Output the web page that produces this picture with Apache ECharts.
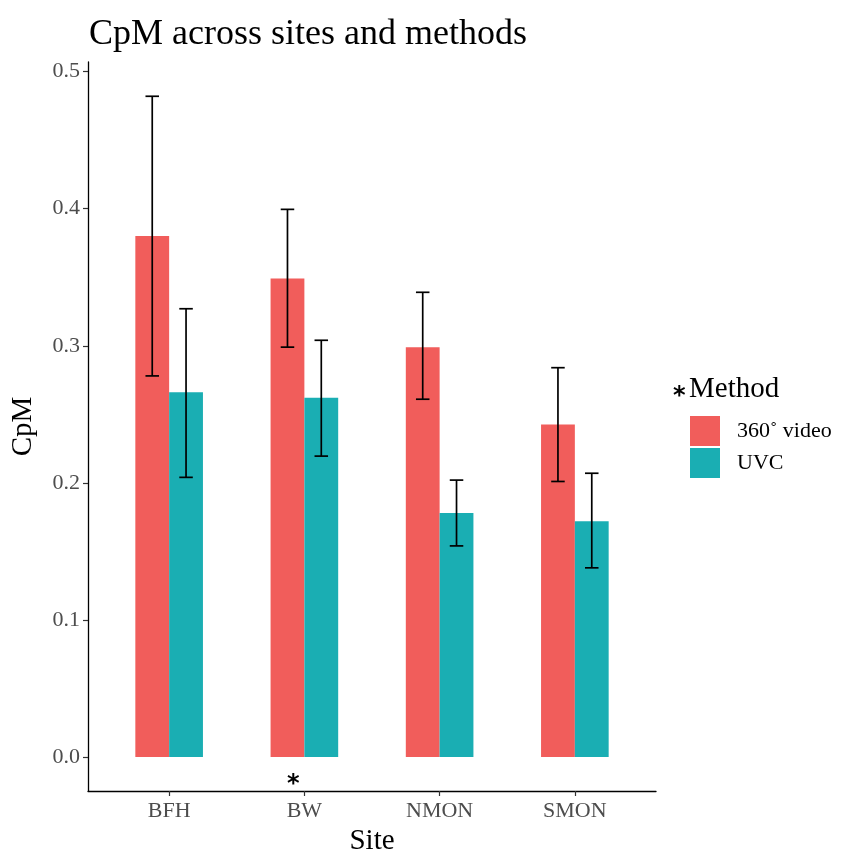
<!DOCTYPE html>
<html>
<head>
<meta charset="utf-8">
<script src="https://cdn.jsdelivr.net/npm/echarts@6/dist/echarts.min.js"></script>
<style>
html,body{margin:0;padding:0;background:#fff;}
#chart{width:843px;height:851px;}
</style>
</head>
<body>
<div id="chart"></div>
<script>
// ---- data ----
const sites = ['BFH', 'BW', 'NMON', 'SMON'];
const methods = ['360˚ video', 'UVC'];
const videoMean  = [0.380, 0.349, 0.299, 0.2425];
const videoLower = [0.278, 0.299, 0.261, 0.201];
const videoUpper = [0.482, 0.3995, 0.339, 0.284];
const uvcMean  = [0.266, 0.262, 0.178, 0.172];
const uvcLower = [0.204, 0.2195, 0.154, 0.138];
const uvcUpper = [0.327, 0.304, 0.202, 0.207];
const yTicks = [0, 0.1, 0.2, 0.3, 0.4, 0.5];
const xTicks = [1, 2, 3, 4];

// ---- styles ----
const colors = ['#F15D5B', '#1AAEB3'];
const FONT = '"Liberation Serif", "DejaVu Serif", serif';
const BAR = 0.25, CAP = 0.1;

function rows(mean, lo, hi) {
  return sites.map((s, i) => [i + 1, mean[i], lo[i], hi[i]]);
}

function makeRender(offset) {
  return function (params, api) {
    const x = api.value(0) + offset;
    const p0 = api.coord([x - BAR / 2, 0]);
    const p1 = api.coord([x + BAR / 2, api.value(1)]);
    const lo = api.coord([x, api.value(2)]);
    const hi = api.coord([x, api.value(3)]);
    const ch = api.size([CAP, 0])[0] / 2;
    const es = { stroke: '#000', lineWidth: 1.7 };
    return {
      type: 'group',
      children: [
        { type: 'rect', shape: { x: p0[0], y: p1[1], width: p1[0] - p0[0], height: p0[1] - p1[1] },
          style: { fill: api.visual('color') } },
        { type: 'line', shape: { x1: lo[0], y1: lo[1], x2: hi[0], y2: hi[1] }, style: es },
        { type: 'line', shape: { x1: lo[0] - ch, y1: lo[1], x2: lo[0] + ch, y2: lo[1] }, style: es },
        { type: 'line', shape: { x1: hi[0] - ch, y1: hi[1], x2: hi[0] + ch, y2: hi[1] }, style: es }
      ]
    };
  };
}

const chart = echarts.init(document.getElementById('chart'), null, { renderer: 'canvas' });
chart.setOption({
  backgroundColor: '#fff',
  animation: false,
  textStyle: { fontFamily: FONT },
  title: {
    text: 'CpM across sites and methods',
    left: 84, top: 12,
    textStyle: { fontFamily: FONT, fontSize: 36, fontWeight: 'normal', color: '#000' }
  },
  grid: { left: 88, right: 187, top: 62, bottom: 60, containLabel: false, outerBoundsMode: 'none' },
  legend: {
    data: methods,
    orient: 'vertical',
    left: 690, top: 416,
    padding: 0,
    itemWidth: 30, itemHeight: 30, itemGap: 2,
    icon: 'rect',
    textStyle: { fontFamily: FONT, fontSize: 22, color: '#000', padding: [0, 0, 0, 12] }
  },
  xAxis: {
    type: 'value', min: 0.4, max: 4.6,
    name: 'Site', nameLocation: 'middle', nameGap: 30,
    nameTextStyle: { fontFamily: FONT, fontSize: 29, color: '#000' },
    axisLine: { onZero: false, lineStyle: { color: '#000', width: 1.3 } },
    axisTick: { show: true, customValues: xTicks, length: 5, lineStyle: { color: '#333', width: 1.2 } },
    axisLabel: { customValues: xTicks, formatter: v => sites[Math.round(v) - 1], margin: 9,
      fontFamily: FONT, fontSize: 22, color: '#4D4D4D' },
    splitLine: { show: false }
  },
  yAxis: {
    type: 'value', min: -0.0248, max: 0.507,
    name: 'CpM', nameLocation: 'middle', nameGap: 50, nameRotate: 90,
    nameTextStyle: { fontFamily: FONT, fontSize: 29, color: '#000' },
    axisLine: { show: true, onZero: false, lineStyle: { color: '#000', width: 1.3 } },
    axisTick: { show: true, customValues: yTicks, length: 5, lineStyle: { color: '#333', width: 1.2 } },
    axisLabel: { customValues: yTicks, formatter: v => v.toFixed(1), margin: 8,
      fontFamily: FONT, fontSize: 22, color: '#4D4D4D' },
    splitLine: { show: false }
  },
  series: [
    { name: methods[0], type: 'custom', renderItem: makeRender(-BAR / 2),
      itemStyle: { color: colors[0] }, encode: { x: 0, y: 1 },
      data: rows(videoMean, videoLower, videoUpper) },
    { name: methods[1], type: 'custom', renderItem: makeRender(BAR / 2),
      itemStyle: { color: colors[1] }, encode: { x: 0, y: 1 },
      data: rows(uvcMean, uvcLower, uvcUpper) }
  ],
  graphic: [
    { type: 'text', left: 689, top: 375,
      style: { text: 'Method', font: '29px ' + FONT, fill: '#000' } },
    { type: 'text', left: 673, top: 385,
      style: { text: '*', font: 'bold 24px "DejaVu Sans", sans-serif', fill: '#000' } },
    { type: 'text', left: 287, top: 773,
      style: { text: '*', font: 'bold 24px "DejaVu Sans", sans-serif', fill: '#000' } }
  ]
});
</script>
</body>
</html>
